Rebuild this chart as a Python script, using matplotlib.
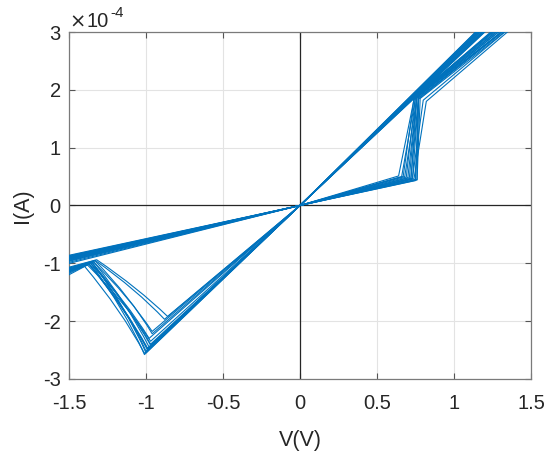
import matplotlib
matplotlib.use('Agg')
import matplotlib.pyplot as plt
from matplotlib.path import Path
from matplotlib.patches import PathPatch

plt.rcParams['font.family'] = ['Liberation Sans', 'DejaVu Sans']
plt.rcParams['axes.unicode_minus'] = False

# one entry per sweep cycle, current in units of 1e-4 A
# positive side: HRS up to set point, jump to LRS, run off the top, come back along LRS
set_v = [0.64, 0.66, 0.68, 0.70, 0.72, 0.73, 0.75, 0.76, 0.74, 0.71, 0.69, 0.75, 0.73, 0.76, 0.67, 0.72]
set_i = [0.51, 0.50, 0.50, 0.48, 0.47, 0.46, 0.45, 0.44, 0.46, 0.48, 0.49, 0.43, 0.47, 0.45, 0.50, 0.46]
top_v = [0.74, 0.75, 0.76, 0.76, 0.77, 0.77, 0.77, 0.78, 0.82, 0.76, 0.75, 0.77, 0.80, 0.77, 0.74, 0.76]
top_i = [1.83, 1.86, 1.88, 1.90, 1.89, 1.87, 1.86, 1.85, 1.80, 1.92, 1.88, 1.84, 1.82, 1.93, 1.85, 1.90]
vmax = 1.5
up_i = [3.40, 3.45, 3.50, 3.55, 3.45, 3.40, 3.38, 3.36, 3.35, 3.55, 3.60, 3.42, 3.38, 3.58, 3.48, 3.52]
ret_i = [3.75, 3.80, 3.85, 3.90, 3.95, 3.78, 3.82, 3.88, 3.92, 3.76, 3.85, 3.80, 3.90, 3.94, 3.79, 3.86]

# negative side: LRS down to reset point, reset curve, HRS to vmin and back
neg_v = [-1.01, -1.00, -0.99, -0.98, -0.97, -0.97, -1.00, -0.99, -0.96, -0.96, -0.86, -0.88, -0.98, -1.01, -0.97, -0.99]
neg_i = [-2.58, -2.55, -2.50, -2.45, -2.40, -2.35, -2.52, -2.48, -2.22, -2.18, -1.92, -1.97, -2.30, -2.56, -2.42, -2.47]
ctrl_v = [-1.14, -1.13, -1.14, -1.12, -1.12, -1.13, -1.13, -1.14, -1.10, -1.11, -1.05, -1.06, -1.13, -1.16, -1.12, -1.14]
ctrl_i = [-1.79, -1.77, -1.76, -1.71, -1.70, -1.69, -1.76, -1.75, -1.59, -1.58, -1.43, -1.46, -1.65, -1.81, -1.71, -1.74]
rst_v = [-1.36, -1.35, -1.37, -1.34, -1.36, -1.38, -1.35, -1.37, -1.33, -1.34, -1.32, -1.33, -1.36, -1.40, -1.35, -1.37]
rst_i = [-1.00, -0.98, -1.02, -0.97, -1.00, -1.03, -0.99, -1.01, -0.96, -0.98, -0.94, -0.95, -1.00, -1.05, -0.99, -1.01]
vmin = -1.6
low_i = [-1.22, -1.20, -1.26, -1.18, -1.23, -1.34, -1.21, -1.25, -1.16, -1.19, -1.14, -1.16, -1.22, -1.30, -1.20, -1.24]
back_i = [-0.92, -0.95, -0.98, -1.00, -1.02, -1.05, -0.94, -0.97, -0.99, -1.01, -0.93, -0.96, -1.03, -1.07, -0.95, -0.98]

xticks = [-1.5, -1, -0.5, 0, 0.5, 1, 1.5]
xticklabels = ['-1.5', '-1', '-0.5', '0', '0.5', '1', '1.5']
yticks = [-3, -2, -1, 0, 1, 2, 3]

blue = '#0072BD'
dark = '#262626'

fig = plt.figure(figsize=(5.52, 4.51), dpi=100)
ax = fig.add_axes([0.125, 0.160, 0.837, 0.769])

codes = [Path.MOVETO, Path.LINETO, Path.LINETO, Path.LINETO, Path.LINETO, Path.LINETO,
         Path.LINETO, Path.CURVE3, Path.CURVE3, Path.LINETO, Path.LINETO, Path.LINETO]

for k in range(len(set_v)):
    verts = [(0, 0), (set_v[k], set_i[k]), (top_v[k], top_i[k]), (vmax, up_i[k]),
             (vmax, ret_i[k]), (0, 0), (neg_v[k], neg_i[k]), (ctrl_v[k], ctrl_i[k]),
             (rst_v[k], rst_i[k]), (vmin, low_i[k]), (vmin, back_i[k]), (0, 0)]
    ax.add_patch(PathPatch(Path(verts, codes), fill=False, edgecolor=blue,
                           lw=0.8, joinstyle='round', zorder=3))

# zero lines
ax.axhline(0, color=dark, lw=0.9, zorder=2)
ax.axvline(0, color=dark, lw=0.9, zorder=2)

ax.set_xlim(-1.5, 1.5)
ax.set_ylim(-3, 3)
ax.set_xticks(xticks)
ax.set_xticklabels(xticklabels)
ax.set_yticks(yticks)
ax.grid(True, color='#e3e3e3', lw=0.8, zorder=0)
ax.set_axisbelow(True)

for s in ax.spines.values():
    s.set_color('#7a7a7a')
    s.set_linewidth(0.9)
ax.tick_params(direction='in', length=4, width=0.8, color='#555555',
               labelsize=14.5, labelcolor=dark, top=True, right=True)
ax.tick_params(axis='x', pad=11)
ax.tick_params(axis='y', pad=6)

ax.set_xlabel('V(V)', fontsize=15.5, color=dark, labelpad=12)
ax.set_ylabel('I(A)', fontsize=15.5, color=dark, labelpad=7)

# exponent label like matlab
ax.text(0.0, 1.014, '\u00d7', transform=ax.transAxes, fontsize=14, color=dark,
        ha='left', va='baseline', family='DejaVu Sans')
ax.text(0.037, 1.014, '10', transform=ax.transAxes, fontsize=14.5, color=dark,
        ha='left', va='baseline')
ax.text(0.089, 1.043, '-4', transform=ax.transAxes, fontsize=11, color=dark,
        ha='left', va='baseline')

fig.savefig('out.png', dpi=100)
